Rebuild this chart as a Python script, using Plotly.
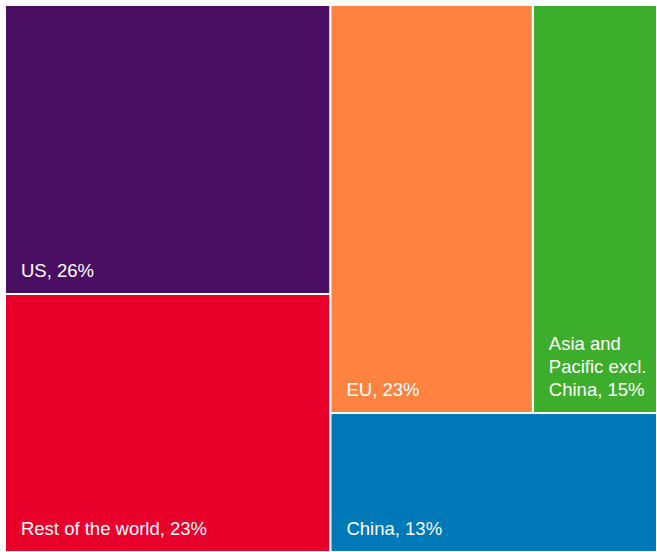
import plotly.graph_objects as go

# Regions and their shares (tile areas)
labels = ["US", "Rest of the world", "EU", "Asia and Pacific excl. China", "China"]
shares = [26.37, 23.55, 23.16, 14.20, 12.72]
# Tile captions as printed on the chart
caption_lines = [["US, 26%"], ["Rest of the world, 23%"], ["EU, 23%"],
                 ["Asia and", "Pacific excl.", "China, 15%"], ["China, 13%"]]
colors = ["#4a0f63", "#e8002a", "#ff8340", "#3cae2c", "#0079b8"]

pad = "\u2002\u2009"
big = "<span style='font-size:18.5px'>" + pad + "{}</span>"
display = ["<br><br>".join(big.format(ln) for ln in lines) + "<br>\u00a0"
           for lines in caption_lines]

fig = go.Figure(go.Treemap(
    labels=labels,
    parents=[""] * len(labels),
    values=shares,
    text=display,
    texttemplate="%{text}",
    textposition="bottom left",
    sort=False,
    marker=dict(colors=colors, line=dict(color="white", width=2), pad=dict(t=0, l=0, r=0, b=0)),
    tiling=dict(packing="squarify", squarifyratio=1.618, pad=0),
    pathbar=dict(visible=False),
    textfont=dict(family="Liberation Sans, Arial, sans-serif", size=9, color="white"),
    hoverinfo="label",
))
fig.update_layout(
    width=657, height=552,
    margin=dict(l=5, t=5, r=0, b=0),
    paper_bgcolor="white",
)
fig.write_html("out.html", config={"displayModeBar": False},
               post_script="document.body.style.margin='0';")
